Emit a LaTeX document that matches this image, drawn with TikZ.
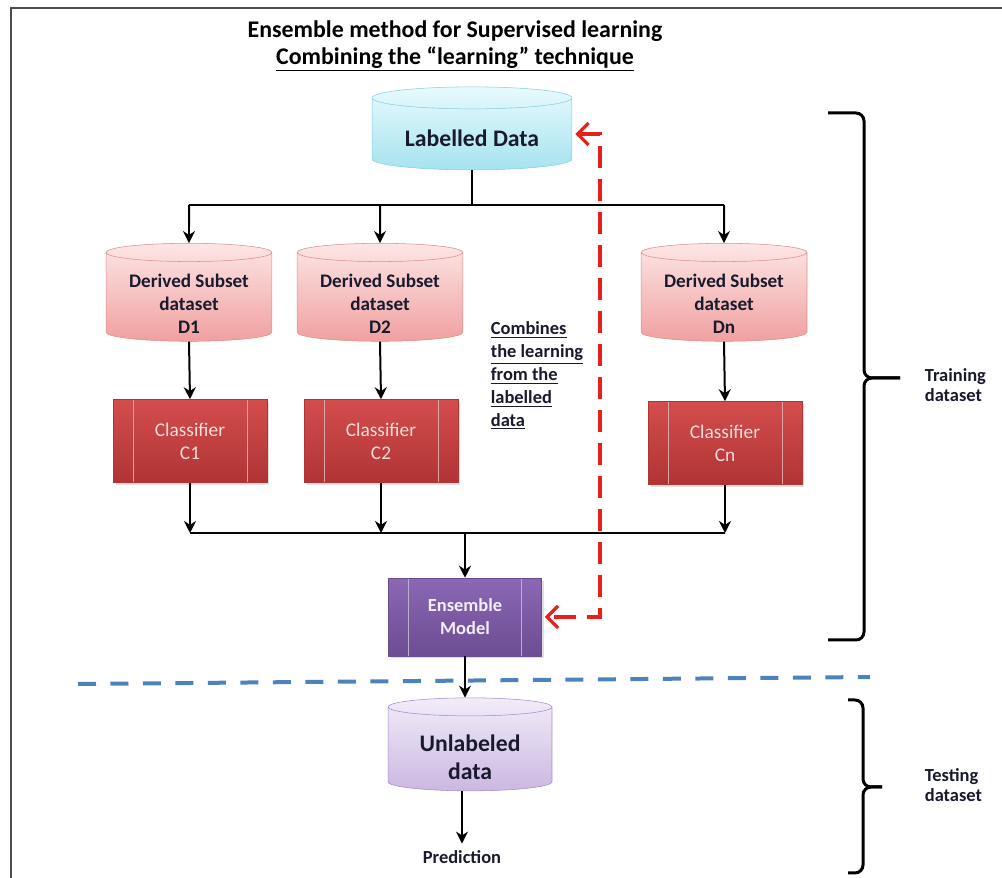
\documentclass[tikz,border=0pt]{standalone}
\usepackage{fontspec}
\setmainfont{Carlito}
\usepackage{xcolor}
\usetikzlibrary{arrows.meta,shapes.geometric,shadows}

\definecolor{labtop}{HTML}{E8FAFD}
\definecolor{labbot}{HTML}{A6E3F0}
\definecolor{labline}{HTML}{87CDDD}
\definecolor{subtop}{HTML}{FDE6E6}
\definecolor{subbot}{HTML}{F0A0A0}
\definecolor{subline}{HTML}{D98C8C}
\definecolor{clstop}{HTML}{D44D4D}
\definecolor{clsbot}{HTML}{B03434}
\definecolor{clstext}{HTML}{FADCDC}
\definecolor{enstop}{HTML}{8C68B4}
\definecolor{ensbot}{HTML}{6C4C92}
\definecolor{enstext}{HTML}{F3ECFA}
\definecolor{unltop}{HTML}{F2ECF9}
\definecolor{unlbot}{HTML}{CBB8E2}
\definecolor{unlline}{HTML}{A48CC4}
\definecolor{inktext}{HTML}{1A1A2E}
\definecolor{backred}{HTML}{E8201C}
\definecolor{splitblue}{HTML}{4F81BD}

\begin{document}
\begin{tikzpicture}[x=0.02cm,y=-0.02cm,line width=0.4mm,
  store/.style={cylinder,shape border rotate=90,aspect=0.11,inner sep=0pt,text width=#1,line width=0.3pt},
  subset/.style={store=33.2mm,top color=subtop,bottom color=subbot,draw=subline,minimum height=19.6mm},
  storetext/.style={text=inktext,align=center,font=\bfseries\fontsize{13.5}{16}\selectfont},
  subtext/.style={text=inktext,align=center,font=\bfseries\fontsize{10.9}{13}\selectfont},
  learner/.style={rectangle,draw=#1,line width=0.3pt,align=center,
    minimum width=30.8mm,minimum height=16.6mm,
    drop shadow={opacity=0.25,shadow xshift=0.5mm,shadow yshift=-0.5mm},
    path picture={\draw[white!55!#1,line width=0.5pt]
      ([xshift=4mm]path picture bounding box.north west) -- ([xshift=4mm]path picture bounding box.south west)
      ([xshift=-4mm]path picture bounding box.north east) -- ([xshift=-4mm]path picture bounding box.south east);}},
  cls/.style={learner=clsbot,top color=clstop,bottom color=clsbot,text=clstext,
    font=\fontsize{11}{13}\selectfont},
  flow/.style={-{Stealth[length=2.4mm,width=2.4mm]}},
  feedback/.style={backred,line width=0.65mm,dash pattern=on 4.4mm off 2.2mm,
    {Straight Barb[length=2.2mm,width=4.4mm]}-{Straight Barb[length=2.2mm,width=4.4mm]}},
  bracket/.style={line width=0.6mm,rounded corners=1.6mm},
  note/.style={font=\bfseries\fontsize{10.5}{11.4}\selectfont,text=inktext,align=left}]

  \useasboundingbox (0,0) rectangle (1002,878);
  \draw[black!70,line width=0.45mm] (11,878) -- (11,8) -- (1002,8);

  \node[font=\bfseries\fontsize{13.6}{16}\selectfont] (title) at (455,31) {Ensemble method for Supervised learning};
  \node[font=\bfseries\fontsize{13.6}{16}\selectfont] (subtitle) at (455,59) {\underline{Combining the “learning” technique}};

  \node[store=40mm,top color=labtop,bottom color=labbot,draw=labline,minimum height=16.6mm] (lab) at (472,134) {};
  \node[storetext] (labtxt) at (472,138) {Labelled Data};

  \node[subset] (d1) at (189,297) {};
  \node[subset] (d2) at (380,297) {};
  \node[subset] (dn) at (724,297) {};
  \node[subtext] (d1txt) at (189,304) {Derived Subset\\dataset\\D1};
  \node[subtext] (d2txt) at (380,304) {Derived Subset\\dataset\\D2};
  \node[subtext] (dntxt) at (724,304) {Derived Subset\\dataset\\Dn};

  \node[cls] (c1) at (190,441) {Classifier\\C1};
  \node[cls] (c2) at (381,441) {Classifier\\C2};
  \node[cls] (cn) at (725,443) {Classifier\\Cn};

  \node[learner=ensbot,top color=enstop,bottom color=ensbot,text=enstext,minimum width=30.6mm,minimum height=15.6mm,
    font=\bfseries\fontsize{10.5}{13}\selectfont] (ens) at (465,617) {Ensemble\\Model};

  \node[store=32.8mm,top color=unltop,bottom color=unlbot,draw=unlline,minimum height=18.6mm] (unl) at (470,749) {};
  \node[storetext] (unltxt) at (470,757) {Unlabeled\\data};
  \node[note] (pred) at (462,857) {Prediction};

  \node[note,anchor=north west,font=\bfseries\fontsize{10.5}{13}\selectfont] (combine) at (484,315)
    {\underline{Combines}\\\underline{the learning}\\\underline{from the}\\\underline{labelled}\\\underline{data}};

  \coordinate (split) at (472,205);
  \coordinate (merge) at (465,533);
  \coordinate (turn) at (600,400);

  \draw (lab.south) -- (split);
  \draw (d1 |- split) -- (dn |- split);
  \foreach \n in {d1,d2,dn}
    \draw[flow] (\n |- split) -- (\n.north);
  \foreach \n/\m in {d1/c1,d2/c2,dn/cn}
    \draw[flow] (\n.south) -- (\m.north);
  \foreach \m in {c1,c2,cn}
    \draw[flow] (\m.south) -- (\m |- merge);
  \draw (c1 |- merge) -- (cn |- merge);
  \draw[flow] (merge) -- (ens.north);
  \draw[flow] (ens.south) -- (ens.south |- unl.north);
  \draw[flow] (pred |- unl.south) -- (pred.north);

  \draw[feedback] ([xshift=0.6mm]lab.east) -| (turn) |- ([xshift=0.6mm]ens.east);

  \draw[splitblue,line width=0.8mm,dash pattern=on 3.6mm off 2.9mm] (78,684) -- (870,677);

  \draw[bracket] (828,113) -- (864,113) -- (864,378) -- (900,378);
  \draw[bracket] (828,640) -- (864,640) -- (864,378) -- (900,378);
  \node[note,anchor=west] (train) at (918,385) {Training\\dataset};

  \draw[bracket] (848,700) -- (863,700) -- (863,787) -- (882,787);
  \draw[bracket] (848,873) -- (863,873) -- (863,787) -- (882,787);
  \node[note,anchor=west] (test) at (918,785) {Testing\\dataset};
\end{tikzpicture}
\end{document}
